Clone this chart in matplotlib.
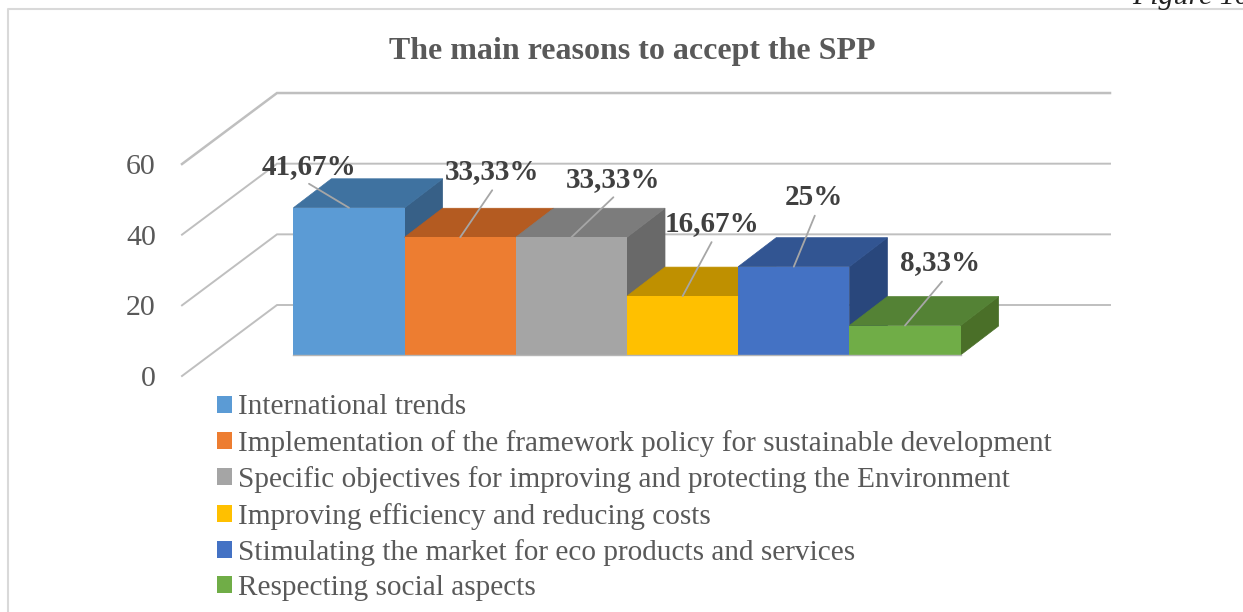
import matplotlib

matplotlib.use("Agg")

import matplotlib.pyplot as plt
from matplotlib.lines import Line2D
from matplotlib.patches import Polygon

plt.rcParams["font.family"] = ["Liberation Serif", "DejaVu Serif"]

categories = [
    "International trends",
    "Implementation of the framework policy for sustainable development",
    "Specific objectives for improving and protecting the Environment",
    "Improving efficiency and reducing costs",
    "Stimulating the market for eco products and services",
    "Respecting social aspects",
]
values = [41.67, 33.33, 33.33, 16.67, 25, 8.33]
value_labels = ["41,67%", "33,33%", "33,33%", "16,67%", "25%", "8,33%"]
y_ticks = [0, 20, 40, 60]

front_colors = ["#5B9BD5", "#ED7D31", "#A5A5A5", "#FFC000", "#4472C4", "#70AD47"]
top_colors = ["#3F72A0", "#B45B21", "#7C7C7C", "#BF9000", "#325592", "#548235"]
side_colors = ["#376087", "#9C4E1C", "#696969", "#A67D00", "#29477C", "#4A6F28"]

# offsets in px from the top of each bar, (right, up)
label_offsets = [(-40, 41), (32, 66), (42, 58), (29, 73), (20, 69), (35, 63)]
leader_offsets = [(-40, 24), (32, 47), (42, 40), (29, 54), (21, 51), (37, 44)]

W, H = 1243, 612
BAR_PX = 111.2
UNIT_PX = 3.533
X0_PX = 349
Y0_PX = 355

# fake 3d: depth of a bar, depth of the floor, front corner of the floor
BAR_DX, BAR_DY = 38 / BAR_PX, 29 / UNIT_PX
WALL_DX, WALL_DY = 95 / BAR_PX, 71 / UNIT_PX
FLOOR_X, FLOOR_Y = (182 - X0_PX) / BAR_PX, (Y0_PX - 376) / UNIT_PX
WALL_END = (1110 - X0_PX) / BAR_PX

GRID = "#BFBFBF"
TEXT = "#595959"

fig = plt.figure(figsize=(W / 100, H / 100), dpi=100)
ax = fig.add_axes([0, 0, 1, 1])
ax.set_xlim(-X0_PX / BAR_PX, (W - X0_PX) / BAR_PX)
ax.set_ylim((Y0_PX - H) / UNIT_PX, Y0_PX / UNIT_PX)
ax.axis("off")

# chart frame, top and left only are in the crop
fig.add_artist(Line2D([8 / W, 8 / W, 1], [0, 1 - 9 / H, 1 - 9 / H], color="#D9D9D9", lw=1.5))

for tick in y_ticks:
    y = FLOOR_Y + tick
    back_x, back_y = FLOOR_X + WALL_DX, y + WALL_DY
    lw = 1.8 if tick == 60 else 1.4
    ax.plot([FLOOR_X, back_x, WALL_END], [y, back_y, back_y], color=GRID, lw=lw, zorder=1,
            solid_joinstyle="miter")
    ax.annotate(str(tick), (FLOOR_X, y), xytext=(-26, -3), textcoords="offset pixels",
                ha="right", va="center", fontsize=21.5, color=TEXT)

for i, (value, name) in enumerate(zip(values, categories)):
    left, right = i - 0.5, i + 0.5
    side = [(right, 0), (right + BAR_DX, BAR_DY), (right + BAR_DX, value + BAR_DY), (right, value)]
    top = [(left, value), (right, value), (right + BAR_DX, value + BAR_DY), (left + BAR_DX, value + BAR_DY)]
    ax.add_patch(Polygon(side, facecolor=side_colors[i], edgecolor=side_colors[i], lw=0.5, zorder=2 + i))
    ax.add_patch(Polygon(top, facecolor=top_colors[i], edgecolor=top_colors[i], lw=0.5, zorder=2 + i))
    ax.bar(i, value, width=1, color=front_colors[i], label=name, zorder=2 + i)

ax.plot([-0.5, len(values) - 0.5], [0, 0], color="#B5B5B5", lw=1, zorder=10)

for i, value in enumerate(values):
    ax.annotate(value_labels[i], (i, value), xytext=label_offsets[i], textcoords="offset pixels",
                ha="center", va="center", fontsize=21, fontweight="bold", color="#404040", zorder=12)
    ax.annotate("", (i, value), xytext=leader_offsets[i], textcoords="offset pixels",
                arrowprops=dict(arrowstyle="-", color="#A6A6A6", lw=1.3, shrinkA=0, shrinkB=0), zorder=11)

fig.text(632 / W, 1 - 51 / H, "The main reasons to accept the SPP", ha="center", va="center",
         fontsize=23, fontweight="bold", color=TEXT)
fig.text(1132 / W, 1 - 4 / H, "Figure 10", ha="left", va="baseline", fontsize=21.5, style="italic", color="#222222")

fig.legend(loc="upper left", bbox_to_anchor=(217 / W, 1 - 394.5 / H), frameon=False, fontsize=21.1,
           labelcolor=TEXT, handlelength=0.51, handleheight=0.51, handletextpad=0.2,
           labelspacing=0.32, borderpad=0, borderaxespad=0)

fig.savefig("out.png", dpi=100)
plt.close(fig)
